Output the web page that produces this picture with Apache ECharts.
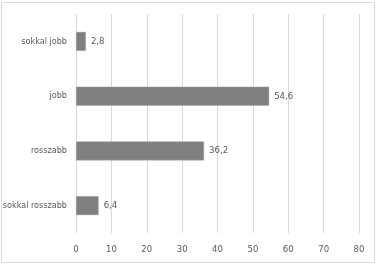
<!DOCTYPE html>
<html><head><meta charset="utf-8">
<script src="https://cdn.jsdelivr.net/npm/echarts@6/dist/echarts.min.js"></script>
<style>html,body{margin:0;padding:0;background:#fff}#c{width:377px;height:266px}</style>
</head><body><div id="c"></div>
<script>
const categories = ['sokkal rosszabb', 'rosszabb', 'jobb', 'sokkal jobb'];
const values = [6.4, 36.2, 54.6, 2.8];
const xTicks = [0, 10, 20, 30, 40, 50, 60, 70, 80];
const FONT = "'DejaVu Sans Condensed', 'Liberation Sans', sans-serif";
const chart = echarts.init(document.getElementById('c'), null, {renderer: 'canvas'});
chart.setOption({
  animation: false,
  backgroundColor: '#fff',
  graphic: [{type: 'rect', shape: {x: 1.5, y: 2.5, width: 373, height: 260}, style: {fill: 'none', stroke: '#d9d9d9', lineWidth: 1}, silent: true}],
  grid: {left: 76, right: 18, top: 14, bottom: 33, containLabel: false, outerBoundsMode: 'none'},
  xAxis: {
    type: 'value', min: xTicks[0], max: xTicks[xTicks.length - 1], interval: 10,
    axisLine: {show: false}, axisTick: {show: false},
    axisLabel: {color: '#595959', fontFamily: FONT, fontSize: 9.5, margin: 12},
    splitLine: {lineStyle: {color: '#d9d9d9', width: 1}}
  },
  yAxis: {
    type: 'category', data: categories,
    axisLine: {show: false}, axisTick: {show: false},
    axisLabel: {color: '#595959', fontFamily: FONT, fontSize: 9, margin: 9}
  },
  series: [{
    type: 'bar', data: values, barWidth: 19,
    itemStyle: {color: '#7f7f7f', borderColor: '#a6a6a6', borderWidth: 0.5},
    label: {show: true, position: 'right', distance: 5, color: '#595959', fontFamily: FONT, fontSize: 9.5,
      formatter: p => String(p.value).replace('.', ',')}
  }]
});
</script></body></html>
